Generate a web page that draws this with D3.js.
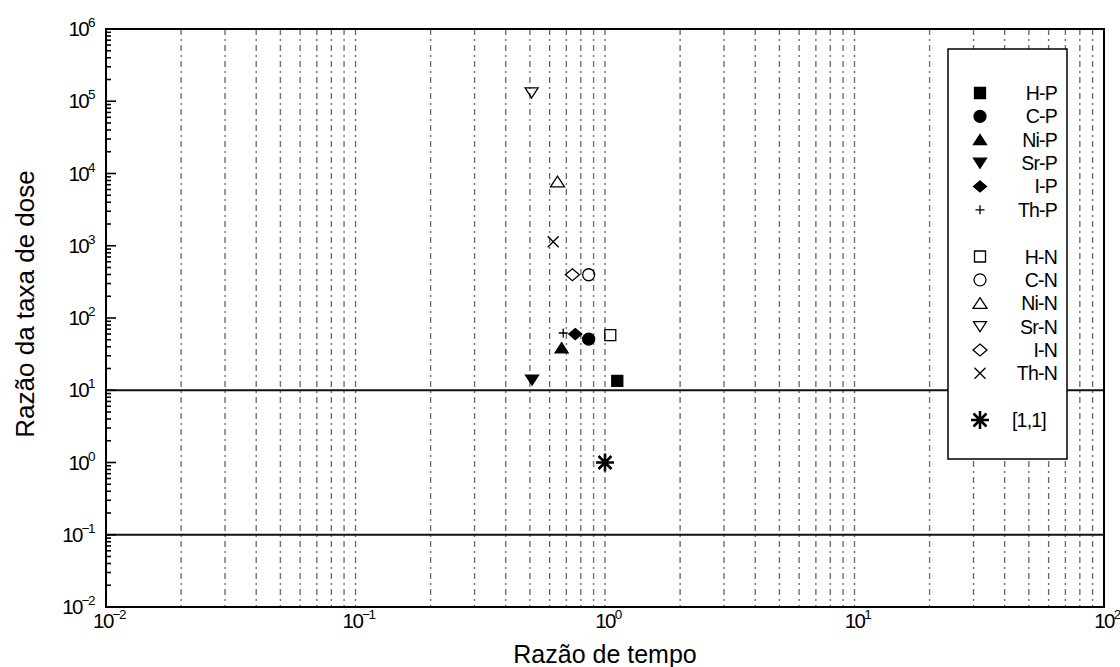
<!DOCTYPE html>
<html>
<head>
<meta charset="utf-8">
<script src="https://cdn.jsdelivr.net/npm/d3@7"></script>
<style>
  body { margin: 0; background: #fff; }
  svg text { font-family: "Liberation Sans", Arial, sans-serif; fill: #000; }
</style>
</head>
<body>
<div id="chart"></div>
<script>
// series names, as in the legend
const seriesNames = ['H-P', 'C-P', 'Ni-P', 'Sr-P', 'I-P', 'Th-P',
                     'H-N', 'C-N', 'Ni-N', 'Sr-N', 'I-N', 'Th-N', '[1,1]']
// Razão de tempo (x)
const timeRatio = [1.12, 0.86, 0.67, 0.51, 0.76, 0.68,
                   1.05, 0.86, 0.645, 0.508, 0.74, 0.62, 1]
// Razão da taxa de dose (y)
const doseRatio = [13.5, 51, 38.6, 13.9, 60, 62,
                   58, 397, 7700, 131000, 397, 1135, 1]
// reference levels (horizontal lines)
const limits = [10, 0.1]
// axis decades
const xExponents = [-2, -1, 0, 1, 2]
const yExponents = [-2, -1, 0, 1, 2, 3, 4, 5, 6]

const W = 1120, H = 667
const plot = { left: 106, right: 1104, top: 29, bottom: 607 }

const svg = d3.select('#chart').append('svg')
    .attr('width', W)
    .attr('height', H)
svg.append('rect').attr('width', W).attr('height', H).attr('fill', '#fff')

const x = d3.scaleLog().domain([1e-2, 1e2]).range([plot.left, plot.right])
const y = d3.scaleLog().domain([1e-2, 1e6]).range([plot.bottom, plot.top])

/* grid: vertical lines at every k*10^n */
const gridX = []
xExponents.slice(0, -1).forEach(e => {
    for (let k = 1; k <= 9; k++) gridX.push(k * Math.pow(10, e))
})
svg.append('g').selectAll('line')
    .data(gridX.filter(v => v > 1e-2))
    .join('line')
    .attr('x1', d => x(d)).attr('x2', d => x(d))
    .attr('y1', plot.top).attr('y2', plot.bottom)
    .attr('stroke', '#333')
    .attr('stroke-width', 1.4)
    .attr('stroke-opacity', 0.7)
    .attr('stroke-dasharray', '6,4,2,4')

/* limit lines */
svg.append('g').selectAll('line')
    .data(limits)
    .join('line')
    .attr('x1', plot.left).attr('x2', plot.right)
    .attr('y1', d => y(d)).attr('y2', d => y(d))
    .attr('stroke', '#111')
    .attr('stroke-width', 2)

/* marker shapes */
function markerPath(type, s) {
    const h = s / 2
    switch (type) {
        case 'square': return `M${-h},${-h}h${s}v${s}h${-s}Z`
        case 'circle': return `M${h},0A${h},${h} 0 1,1 ${-h},0A${h},${h} 0 1,1 ${h},0Z`
        case 'triUp': return `M0,${-h * 0.8}L${h},${h * 0.75}L${-h},${h * 0.75}Z`
        case 'triDown': return `M0,${h * 0.8}L${h},${-h * 0.75}L${-h},${-h * 0.75}Z`
        case 'diamond': return `M0,${-h * 0.85}L${h},0L0,${h * 0.85}L${-h},0Z`
        case 'plus': return `M${-h},0H${h}M0,${-h}V${h}`
        case 'times': return `M${-h},${-h}L${h},${h}M${-h},${h}L${h},${-h}`
        case 'asterisk': {
            const d = h * 0.72
            return `M${-h},0H${h}M0,${-h}V${h}M${-d},${-d}L${d},${d}M${-d},${d}L${d},${-d}`
        }
    }
}
const markerStyle = {
    'H-P': { type: 'square', size: 11, fill: true },
    'C-P': { type: 'circle', size: 12, fill: true },
    'Ni-P': { type: 'triUp', size: 13, fill: true },
    'Sr-P': { type: 'triDown', size: 13, fill: true },
    'I-P': { type: 'diamond', size: 13, fill: true },
    'Th-P': { type: 'plus', size: 9, fill: false },
    'H-N': { type: 'square', size: 11, fill: false },
    'C-N': { type: 'circle', size: 12, fill: false },
    'Ni-N': { type: 'triUp', size: 14, fill: false },
    'Sr-N': { type: 'triDown', size: 13, fill: false },
    'I-N': { type: 'diamond', size: 14, fill: false },
    'Th-N': { type: 'times', size: 11, fill: false },
    '[1,1]': { type: 'asterisk', size: 18, fill: false, bold: true }
}
function drawMarker(g, name) {
    const st = markerStyle[name]
    g.append('path')
        .attr('d', markerPath(st.type, st.size))
        .attr('fill', st.fill ? '#000' : 'none')
        .attr('stroke', '#000')
        .attr('stroke-width', st.bold ? 2.6 : 1.3)
        .attr('stroke-linejoin', 'miter')
}

/* data points */
const points = seriesNames.map((n, i) => ({ name: n, t: timeRatio[i], d: doseRatio[i] }))
svg.append('g').selectAll('g')
    .data(points)
    .join('g')
    .attr('transform', p => `translate(${x(p.t)},${y(p.d)})`)
    .each(function (p) { drawMarker(d3.select(this), p.name) })

/* legend */
const legendRows = ['H-P', 'C-P', 'Ni-P', 'Sr-P', 'I-P', 'Th-P', '',
                    'H-N', 'C-N', 'Ni-N', 'Sr-N', 'I-N', 'Th-N', '', '[1,1]']
const legY = d3.scaleLinear().domain([0, legendRows.length - 1]).range([93, 420])
const legend = svg.append('g')
legend.append('rect')
    .attr('x', 948).attr('y', 49)
    .attr('width', 119).attr('height', 410)
    .attr('fill', '#fff')
    .attr('stroke', '#000')
    .attr('stroke-width', 1.5)
legendRows.forEach((n, i) => {
    if (!n) return
    const row = legend.append('g').attr('transform', `translate(980,${legY(i)})`)
    drawMarker(row, n)
    const last = n === '[1,1]'
    row.append('text')
        .attr('x', last ? 32 : 77)
        .attr('y', 7)
        .attr('text-anchor', last ? 'start' : 'end')
        .attr('font-size', 19.5)
        .attr('letter-spacing', -0.8)
        .text(n)
})

/* frame */
svg.append('rect')
    .attr('x', plot.left).attr('y', plot.top)
    .attr('width', plot.right - plot.left)
    .attr('height', plot.bottom - plot.top)
    .attr('fill', 'none')
    .attr('stroke', '#000')
    .attr('stroke-width', 2)

/* left axis ticks (inward) */
const yTicks = []
yExponents.slice(0, -1).forEach(e => {
    for (let k = 1; k <= 9; k++) yTicks.push({ v: k * Math.pow(10, e), major: k === 1 })
})
yTicks.push({ v: 1e6, major: true })
svg.append('g').selectAll('line')
    .data(yTicks)
    .join('line')
    .attr('x1', plot.left).attr('x2', d => plot.left + (d.major ? 10 : 5))
    .attr('y1', d => y(d.v)).attr('y2', d => y(d.v))
    .attr('stroke', '#000')
    .attr('stroke-width', 1.6)

function powerLabel(sel, e) {
    sel.append('tspan').text('10')
    sel.append('tspan')
        .attr('dy', -9)
        .attr('font-size', 13.5)
        .text(e < 0 ? '\u2212' + (-e) : e)
}

svg.append('g').selectAll('text')
    .data(yExponents)
    .join('text')
    .attr('x', 94)
    .attr('y', e => y(Math.pow(10, e)) + 7)
    .attr('text-anchor', 'end')
    .attr('font-size', 20.5)
    .attr('letter-spacing', -1.6)
    .each(function (e) { powerLabel(d3.select(this), e) })

svg.append('g').selectAll('text')
    .data(xExponents)
    .join('text')
    .attr('x', e => x(Math.pow(10, e)) + 3)
    .attr('y', 628)
    .attr('text-anchor', 'middle')
    .attr('font-size', 20.5)
    .attr('letter-spacing', -1.6)
    .each(function (e) { powerLabel(d3.select(this), e) })

/* axis titles */
svg.append('text')
    .attr('x', 605).attr('y', 663)
    .attr('text-anchor', 'middle')
    .attr('font-size', 25)
    .text('Razão de tempo')

svg.append('text')
    .attr('transform', 'translate(34,304) rotate(-90)')
    .attr('text-anchor', 'middle')
    .attr('font-size', 26)
    .text('Razão da taxa de dose')
</script>
</body>
</html>
